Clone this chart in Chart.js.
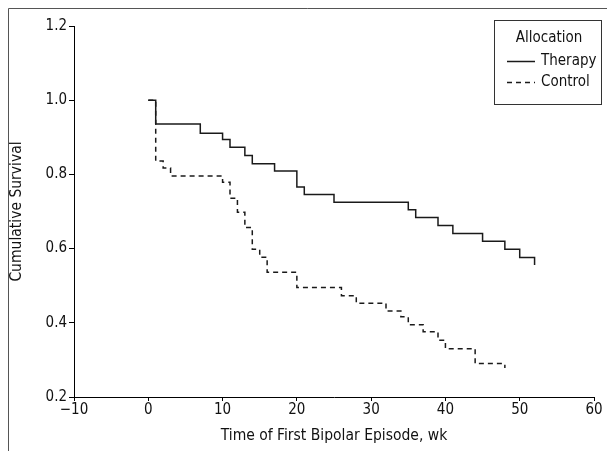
<!DOCTYPE html>
<html>
<head>
<meta charset="utf-8">
<script src="https://cdn.jsdelivr.net/npm/chart.js@4.4.0/dist/chart.umd.min.js"></script>
<style>
html,body{margin:0;padding:0;background:#fff;}
canvas{display:block;}
</style>
</head>
<body>
<canvas id="c" width="610" height="451"></canvas>
<script>
// ---- data ----
const therapyWeeks = [0, 1, 7, 10, 11, 13, 14, 17, 20, 21, 25, 35, 36, 39, 41, 45, 48, 50, 52];
const therapySurv  = [1.0, 0.936, 0.911, 0.894, 0.873, 0.851, 0.829, 0.809, 0.766, 0.746, 0.725, 0.705, 0.684, 0.662, 0.641, 0.620, 0.598, 0.576, 0.556];
const controlWeeks = [0, 1, 2, 3, 10, 11, 12, 13, 14, 15, 16, 20, 26, 28, 32, 34, 35, 37, 39, 40, 44, 48];
const controlSurv  = [1.0, 0.836, 0.817, 0.796, 0.779, 0.736, 0.698, 0.657, 0.598, 0.577, 0.536, 0.495, 0.473, 0.453, 0.432, 0.416, 0.395, 0.376, 0.353, 0.330, 0.290, 0.278];
const seriesNames = ["Therapy", "Control"];
const legendTitle = "Allocation";
const xTitle = "Time of First Bipolar Episode, wk";
const yTitle = "Cumulative Survival";
const xTicks = [-10, 0, 10, 20, 30, 40, 50, 60];
const yTicks = [0.2, 0.4, 0.6, 0.8, 1.0, 1.2];

const FONT = "'Liberation Sans Narrow', 'Arial Narrow', 'DejaVu Sans Condensed', sans-serif";
Chart.defaults.font.family = FONT;
Chart.defaults.color = '#111';

const toPts = (xs, ys) => xs.map((x, i) => ({x: x, y: ys[i]}));

const framePlugin = {
  id: 'frame',
  beforeDraw(chart) {
    const ctx = chart.ctx;
    ctx.save();
    ctx.fillStyle = '#fff';
    ctx.fillRect(0, 0, chart.width, chart.height);
    ctx.strokeStyle = '#555';
    ctx.lineWidth = 1;
    ctx.beginPath();
    ctx.moveTo(8.5, 451);
    ctx.lineTo(8.5, 8.5);
    ctx.lineTo(607, 8.5);
    ctx.stroke();
    ctx.restore();
  }
};

const legendPlugin = {
  id: 'boxLegend',
  afterDraw(chart) {
    const ctx = chart.ctx;
    ctx.save();
    ctx.strokeStyle = '#333';
    ctx.lineWidth = 1;
    ctx.strokeRect(494.5, 20.5, 107, 84);
    ctx.fillStyle = '#111';
    ctx.font = '15px ' + FONT;
    ctx.textBaseline = 'middle';
    ctx.textAlign = 'center';
    ctx.fillText(legendTitle, 549, 38);
    ctx.textAlign = 'left';
    const ys = [61, 82];
    chart.data.datasets.forEach((ds, i) => {
      ctx.strokeStyle = ds.borderColor;
      ctx.lineWidth = ds.borderWidth;
      ctx.setLineDash(ds.borderDash || []);
      ctx.beginPath();
      ctx.moveTo(507, ys[i] + 0.5);
      ctx.lineTo(535, ys[i] + 0.5);
      ctx.stroke();
      ctx.setLineDash([]);
      ctx.fillText(ds.label, 541, ys[i]);
    });
    ctx.restore();
  }
};

new Chart(document.getElementById('c'), {
  type: 'line',
  data: {
    datasets: [
      {
        label: seriesNames[0],
        data: toPts(therapyWeeks, therapySurv),
        borderColor: '#1a1a1a',
        borderWidth: 1.5,
        stepped: true,
        pointRadius: 0,
        fill: false
      },
      {
        label: seriesNames[1],
        data: toPts(controlWeeks, controlSurv),
        borderColor: '#1a1a1a',
        borderWidth: 1.5,
        borderDash: [5, 4],
        stepped: true,
        pointRadius: 0,
        fill: false
      }
    ]
  },
  options: {
    responsive: false,
    devicePixelRatio: 1,
    animation: false,
    layout: { padding: { left: 0, top: 26, right: 16, bottom: 0 } },
    plugins: {
      legend: { display: false },
      tooltip: { enabled: false }
    },
    scales: {
      x: {
        type: 'linear',
        min: -10, max: 60,
        afterBuildTicks: (s) => { s.ticks = xTicks.map(v => ({value: v})); },
        afterFit: (s) => { s.height = 54; },
        ticks: {
          font: { size: 15, lineHeight: 1 },
          color: '#111',
          padding: 2,
          maxRotation: 0,
          callback: (v) => v < 0 ? '\u2212' + Math.abs(v) : String(v)
        },
        grid: { drawOnChartArea: false, drawTicks: true, tickLength: 4, color: '#000' },
        border: { display: true, color: '#000', width: 1 },
        title: {
          display: true, text: xTitle,
          font: { size: 15.5, lineHeight: 1.2 }, color: '#111',
          padding: { top: 6, bottom: 6 }
        }
      },
      y: {
        type: 'linear',
        min: 0.2, max: 1.2,
        afterBuildTicks: (s) => { s.ticks = yTicks.map(v => ({value: v})); },
        afterFit: (s) => { s.width = 74; },
        ticks: {
          font: { size: 15, lineHeight: 1 },
          color: '#111',
          padding: 2,
          callback: (v) => Number(v).toFixed(1)
        },
        grid: { drawOnChartArea: false, drawTicks: true, tickLength: 5, color: '#000' },
        border: { display: true, color: '#000', width: 1 },
        title: {
          display: true, text: yTitle,
          font: { size: 15.5, lineHeight: 1.2 }, color: '#111',
          padding: { top: 8, bottom: 7 }
        }
      }
    }
  },
  plugins: [framePlugin, legendPlugin]
});
</script>
</body>
</html>
